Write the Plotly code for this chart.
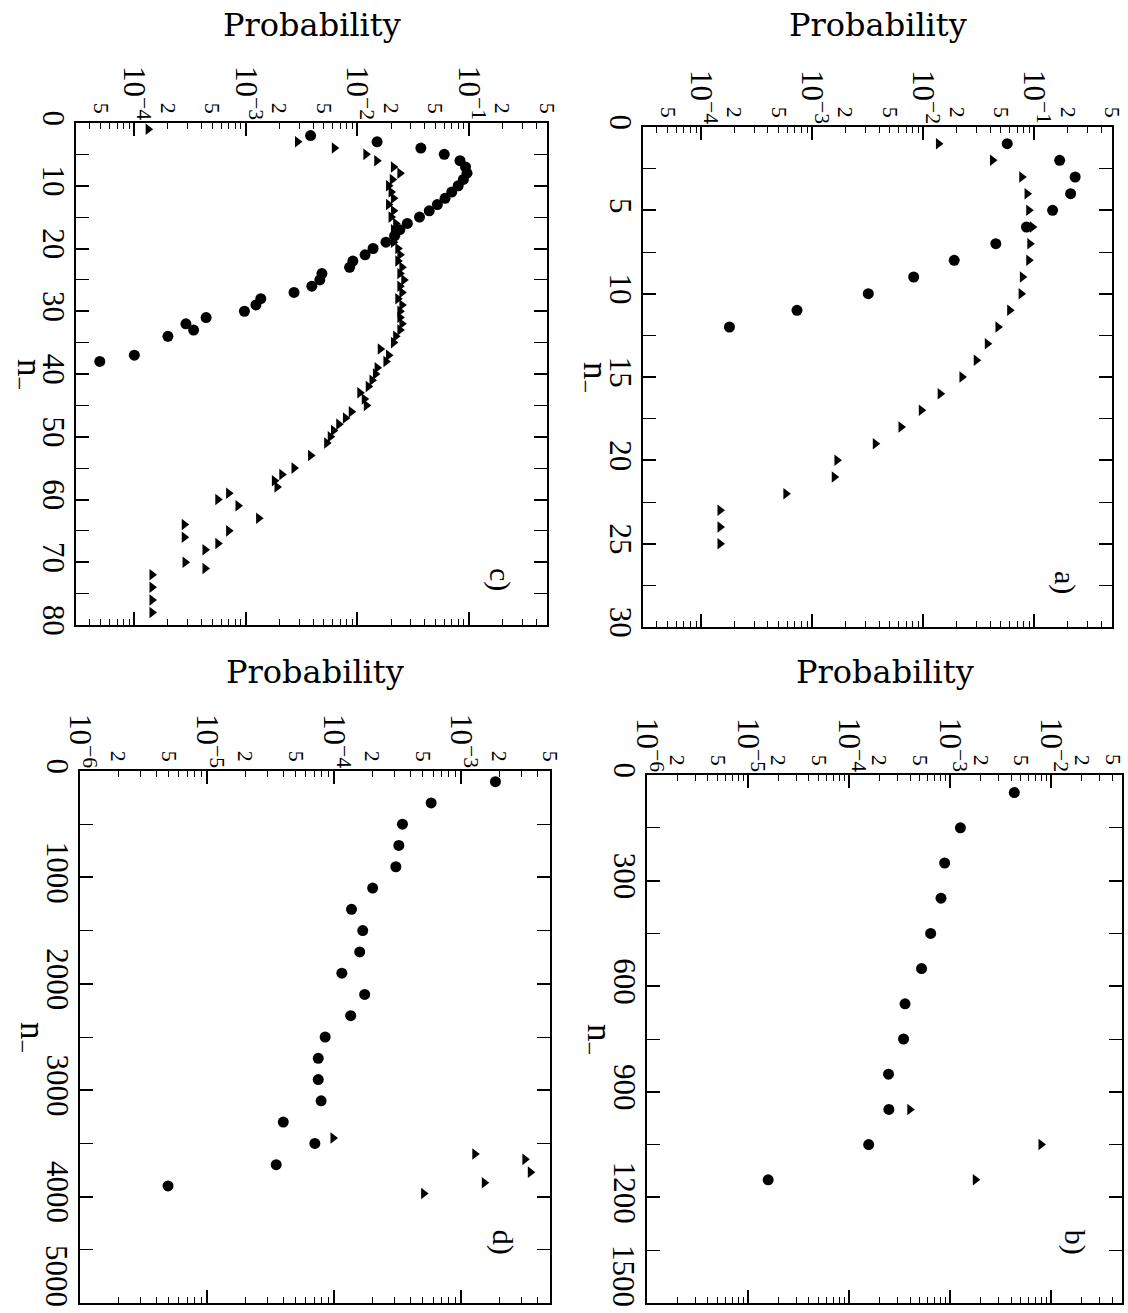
import math
import plotly.graph_objects as go

# ---------------- data ----------------
# panel a
a_circle_n = [1, 2, 3, 4, 5, 6, 7, 8, 9, 10, 11, 12]
a_circle_p = [0.057, 0.169, 0.233, 0.212, 0.146, 0.085, 0.045, 0.019, 0.0082, 0.0032, 0.00073, 0.00018]
a_tri_n = list(range(1, 26))
a_tri_p = [0.0137, 0.042, 0.077, 0.086, 0.089, 0.096, 0.091, 0.089, 0.078, 0.076,
           0.060, 0.047, 0.0377, 0.030, 0.0223, 0.0142, 0.0096, 0.0063, 0.0037, 0.00167,
           0.00158, 0.00058, 0.000148, 0.000148, 0.000148]

# panel b
b_circle_n = [50, 150, 250, 350, 450, 550, 650, 750, 850, 950, 1050, 1150]
b_circle_p = [0.0043, 0.00126, 0.00088, 0.00081, 0.00064, 0.00052, 0.000357, 0.000345,
              0.000245, 0.000247, 0.000156, 0.0000158]
b_tri_n = [950, 1050, 1150]
b_tri_p = [0.000398, 0.0079, 0.00177]

# panel c
c_circle_n = [2, 3, 4, 5, 6, 7, 8, 9, 10, 11, 12, 13, 14, 15, 16, 17, 18, 19, 20, 21,
              22, 23, 24, 25, 26, 27, 28, 29, 30, 31, 32, 33, 34, 37, 38]
c_circle_p = [0.0038, 0.015, 0.037, 0.060, 0.083, 0.093, 0.096, 0.089, 0.080, 0.070,
              0.061, 0.052, 0.044, 0.036, 0.028, 0.024, 0.0215, 0.018, 0.0138, 0.0117,
              0.0091, 0.0085, 0.0048, 0.0046, 0.0039, 0.0027, 0.00136, 0.00123, 0.00097, 0.00044,
              0.00029, 0.00034, 0.0002, 0.0001, 0.000049]
c_tri_n = [1, 3, 4, 5, 6, 7, 8, 9, 10, 11, 12, 13, 14, 15, 16, 17, 18, 19, 20, 21,
           22, 23, 24, 25, 26, 27, 28, 29, 30, 31, 32, 33, 34, 35, 36, 37, 38, 39, 40, 41,
           42, 43, 44, 45, 46, 47, 48, 49, 50, 51, 53, 55, 56, 57, 58, 59, 60, 61, 63, 64,
           65, 66, 67, 68, 70, 71, 72, 74, 76, 78]
c_tri_p = [0.000133, 0.0029, 0.0062, 0.0119, 0.0149, 0.021, 0.024, 0.0205, 0.019, 0.020,
           0.021, 0.019, 0.021, 0.020, 0.022, 0.021, 0.022, 0.021, 0.023, 0.024,
           0.023, 0.025, 0.024, 0.026, 0.024, 0.025, 0.023, 0.025, 0.024, 0.024,
           0.025, 0.024, 0.022, 0.021, 0.016, 0.019, 0.018, 0.015, 0.0145, 0.0135,
           0.0125, 0.0105, 0.0115, 0.012, 0.0088, 0.0078, 0.0068, 0.0061, 0.0057, 0.0053,
           0.0038, 0.0027, 0.0021, 0.0018, 0.0019, 0.0007, 0.00056, 0.00085, 0.0013, 0.00028,
           0.0007, 0.00028, 0.00056, 0.00043, 0.000285, 0.00043, 0.000144, 0.000144, 0.000144, 0.000144]

# panel d
d_circle_n = [100, 300, 500, 700, 900, 1100, 1300, 1500, 1700, 1900,
              2100, 2300, 2500, 2700, 2900, 3100, 3300, 3500, 3700, 3900]
d_circle_p = [0.00186, 0.00058, 0.000345, 0.000323, 0.000306, 0.000201, 0.000137, 0.000168,
              0.000159, 0.000115, 0.000174, 0.000135, 0.000085, 0.000075, 0.000075, 0.000079,
              0.0000398, 0.0000705, 0.000035, 0.00000493]
d_tri_n = [3450, 3600, 3650, 3770, 3870, 3970]
d_tri_p = [0.000098, 0.00128, 0.00317, 0.0035, 0.00152, 0.000506]

panels = {
    "c": dict(circ=(c_circle_n, c_circle_p), tri=(c_tri_n, c_tri_p),
              prange=(3e-5, 0.5), nmax=80, nstep=10, nminor=5,
              dom_x=(76, 547), dom_y=(123, 625)),
    "a": dict(circ=(a_circle_n, a_circle_p), tri=(a_tri_n, a_tri_p),
              prange=(3e-5, 0.5), nmax=30, nstep=5, nminor=2.5,
              dom_x=(643, 1112), dom_y=(127, 627)),
    "d": dict(circ=(d_circle_n, d_circle_p), tri=(d_tri_n, d_tri_p),
              prange=(1e-6, 5e-3), nmax=5000, nstep=1000, nminor=500,
              dom_x=(80, 550), dom_y=(771, 1303)),
    "b": dict(circ=(b_circle_n, b_circle_p), tri=(b_tri_n, b_tri_p),
              prange=(1e-6, 5e-2), nmax=1500, nstep=300, nminor=150,
              dom_x=(647, 1122), dom_y=(775, 1303)),
}

W, H = 1128, 1313
SERIF = "Liberation Serif, Times New Roman, serif"


def log_ticks(lo, hi):
    decades, dec_text, mids, mid_text, minors = [], [], [], [], []
    e0, e1 = math.floor(math.log10(lo)), math.ceil(math.log10(hi))
    for e in range(e0, e1 + 1):
        for m in range(1, 10):
            v = m * 10 ** e
            if v < lo * 0.999 or v > hi * 1.001:
                continue
            if m == 1:
                decades.append(v)
                dec_text.append("10<sup>\u2212%d</sup>" % (-e))
            else:
                minors.append(v)
                if m in (2, 5):
                    mids.append(v)
                    mid_text.append(str(m))
    return decades, dec_text, mids, mid_text, minors


fig = go.Figure()
layout = {}
annotations = []
n_panels = len(panels)

for i, (name, P) in enumerate(panels.items()):
    k = "" if i == 0 else str(i + 1)
    ko = str(i + 1 + n_panels)
    xa, ya, xo = "x" + k, "y" + k, "x" + ko
    cx, cy = P["circ"]
    tx, ty = P["tri"]
    fig.add_trace(go.Scatter(x=cy, y=cx, mode="markers", xaxis=xa, yaxis=ya,
                             marker=dict(symbol="circle", size=11, color="black"),
                             showlegend=False))
    fig.add_trace(go.Scatter(x=ty, y=tx, mode="markers", xaxis=xa, yaxis=ya,
                             marker=dict(symbol="triangle-right", size=10, color="black"),
                             showlegend=False))
    lo, hi = P["prange"]
    dec, dect, mids, midt, mins = log_ticks(lo, hi)
    x0, x1 = P["dom_x"]
    y0, y1 = P["dom_y"]
    bottom_row = y0 > 400
    # label at the right figure edge: drawn as an annotation so it stays inside
    if x1 > W - 12 and mids and abs(mids[-1] - hi) < hi * 1e-6:
        edge_txt = midt[-1]
        mids, midt = mids[:-1], midt[:-1]
        annotations.append(dict(text=edge_txt, xref="paper", x=1.0, xanchor="right",
                                yref="paper", y=1 - (y0 - 8) / H, yanchor="bottom",
                                showarrow=False, textangle=90,
                                font=dict(family=SERIF, size=22, color="black")))
    # helper trace so the overlay label axis is drawn
    fig.add_trace(go.Scatter(x=[lo, hi], y=[None, None], mode="markers", xaxis=xo, yaxis=ya,
                             showlegend=False, hoverinfo="skip"))
    rng = [math.log10(lo), math.log10(hi)]
    layout["xaxis" + k] = dict(
        type="log", range=rng,
        domain=[x0 / W, x1 / W], anchor=ya, side="top",
        tickmode="array", tickvals=dec, ticktext=dect, tickangle=90,
        ticks="inside", ticklen=13, tickwidth=1.5, tickcolor="black",
        minor=dict(tickmode="array", tickvals=mins, ticks="inside", ticklen=6,
                   tickwidth=1.3, tickcolor="black", showgrid=False),
        mirror="allticks", showline=True, linecolor="black", linewidth=2,
        showgrid=False, zeroline=False, ticklabelstandoff=-10,
        ticklabeloverflow="allow", automargin=False,
        tickfont=dict(family=SERIF, size=31, color="black"),
    )
    layout["xaxis" + ko] = dict(
        type="log", range=rng, overlaying=xa, anchor=ya, side="top",
        tickmode="array", tickvals=mids, ticktext=midt, tickangle=90,
        ticks="", showline=False, showgrid=False, zeroline=False,
        ticklabelstandoff=5, ticklabeloverflow="allow", automargin=False,
        tickfont=dict(family=SERIF, size=22, color="black"),
    )
    nvals = list(range(0, P["nmax"] + 1, P["nstep"]))
    nlab = nvals
    if bottom_row:
        # last label at the bottom figure edge: annotation keeps it inside the page
        nlab = nvals[:-1]
        annotations.append(dict(text=str(nvals[-1]), xref="paper", x=(x0 - 23) / W,
                                xanchor="center", yref="paper", y=0.003, yanchor="bottom",
                                showarrow=False, textangle=90,
                                font=dict(family=SERIF, size=31, color="black")))
    layout["yaxis" + k] = dict(
        range=[P["nmax"], 0], domain=[1 - y1 / H, 1 - y0 / H], anchor=xa,
        tickmode="array", tickvals=nlab, ticktext=[str(v) for v in nlab],
        tickangle=90, ticks="inside", ticklen=13, tickwidth=1.5, tickcolor="black",
        minor=dict(dtick=P["nminor"], ticks="inside", ticklen=7, tickwidth=1.3,
                   tickcolor="black", showgrid=False),
        mirror="allticks", showline=True, linecolor="black", linewidth=2,
        showgrid=False, zeroline=False, ticklabelstandoff=-6,
        ticklabeloverflow="allow", automargin=False,
        tickfont=dict(family=SERIF, size=31, color="black"),
    )
    title_y = 25 if y0 < 400 else 672
    annotations.append(dict(text="Probability", xref=xa + " domain", x=0.5,
                            yref="paper", y=1 - title_y / H, showarrow=False,
                            xanchor="center", yanchor="middle",
                            font=dict(family="DejaVu Serif, serif", size=32, color="black")))
    annotations.append(dict(text="n<sub>\u2212</sub>", xref="paper", x=(x0 - 49) / W,
                            yref=ya + " domain", y=0.5, showarrow=False, textangle=90,
                            xanchor="center", yanchor="middle",
                            font=dict(family=SERIF, size=35, color="black")))
    annotations.append(dict(text=name + ")", xref=xa + " domain", x=0.90,
                            yref=ya + " domain", y=0.09 if y0 < 400 else 0.115,
                            showarrow=False, textangle=90,
                            xanchor="center", yanchor="middle",
                            font=dict(family=SERIF, size=30, color="black")))

fig.update_layout(**layout)
fig.update_layout(width=W, height=H,
                  margin=dict(l=0, r=0, t=0, b=0, pad=0, autoexpand=False),
                  paper_bgcolor="white", plot_bgcolor="white",
                  annotations=annotations, showlegend=False)
fig.write_html("out.html")
